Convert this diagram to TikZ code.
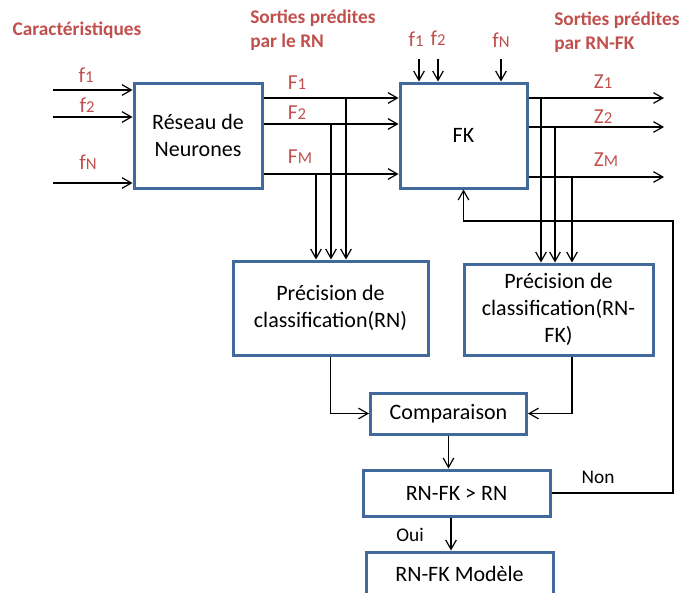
\documentclass[tikz,border=0pt]{standalone}
\usepackage{fontspec}
\setmainfont{Carlito}
\usetikzlibrary{arrows.meta}
\definecolor{boxblue}{RGB}{65,105,155}
\definecolor{lblred}{RGB}{192,80,77}
\newcommand\sbx[1]{{\fontsize{12.5}{14}\selectfont #1}}
\begin{document}
\begin{tikzpicture}[x=0.75pt,y=-0.75pt,
  box/.style={draw=boxblue,line width=2.25pt,fill=white,align=center,inner sep=0pt,
    font=\fontsize{16.5}{20}\selectfont},
  arr/.style={-{Straight Barb[length=7pt,width=8pt]},line width=0.9pt},
  lbl/.style={text=lblred,font=\fontsize{16}{18}\selectfont,inner sep=0pt},
  hd/.style={text=lblred,font=\bfseries\fontsize{14.5}{18}\selectfont,align=left,inner sep=0pt},
  txt/.style={font=\fontsize{14.5}{17}\selectfont,inner sep=0pt}]
\useasboundingbox (0,0) rectangle (681,592);
% boxes
\node[box,minimum width=96pt,minimum height=78.75pt] (rn) at (198,135.5) {Réseau de\\Neurones};
\node[box,minimum width=95.25pt,minimum height=78.75pt] (fk) at (463.5,135.5) {FK};
\node[box,minimum width=146.25pt,minimum height=70.5pt] (prn) at (330.5,308) {Précision de\\classification(RN)};
\node[box,minimum width=141.75pt,minimum height=68.25pt] (pfk) at (558.5,309.5) {Précision de\\classification(RN-\\FK)};
\node[box,minimum width=117pt,minimum height=30.75pt] (cmp) at (448.5,413.5) {Comparaison};
\node[box,minimum width=140.25pt,minimum height=34.5pt] (dec) at (456.5,493) {RN-FK > RN};
\node[box,minimum width=140.25pt,minimum height=33pt] (mod) at (459.5,574) {RN-FK Modèle};
% headings
\node[hd] (h1) at (77,30) {Caractéristiques};
\node[hd,anchor=west] (h2) at (250,30) {Sorties prédites\\par le RN};
\node[hd,anchor=west] (h3) at (554,32) {Sorties prédites\\par RN-FK};
% coordinates
\coordinate (i1) at (53,90);
\coordinate (i2) at (53,117);
\coordinate (i3) at (53,183);
\coordinate (y1) at (0,98);
\coordinate (y2) at (0,124);
\coordinate (y3) at (0,174);
\coordinate (zy1) at (0,98);
\coordinate (zy2) at (0,127);
\coordinate (zy3) at (0,177);
\coordinate (zend) at (664,0);
\coordinate (b1) at (346,98);
\coordinate (b2) at (331,124);
\coordinate (b3) at (316,174);
\coordinate (c1) at (541,98);
\coordinate (c2) at (555,127);
\coordinate (c3) at (572,177);
\coordinate (t1) at (419,59);
\coordinate (t2) at (438,59);
\coordinate (t3) at (501,59);
\coordinate (fb) at (673,221);
\coordinate (px) at (572,0);
\coordinate (ox) at (451,0);
% inputs to RN
\draw[arr] (i1) -- (i1 -| rn.west);
\draw[arr] (i2) -- (i2 -| rn.west);
\draw[arr] (i3) -- (i3 -| rn.west);
\node[lbl] (lf1) at (86,75) {f\sbx{1}};
\node[lbl] (lf2) at (87,105) {f\sbx{2}};
\node[lbl] (lfn) at (88,162) {f\sbx{N}};
% RN outputs to FK
\draw[arr] (rn.east |- y1) -- (fk.west |- y1);
\draw[arr] (rn.east |- y2) -- (fk.west |- y2);
\draw[arr] (rn.east |- y3) -- (fk.west |- y3);
\node[lbl] (lF1) at (297,83) {F\sbx{1}};
\node[lbl] (lF2) at (297,113) {F\sbx{2}};
\node[lbl] (lFM) at (300,157) {F\sbx{M}};
% branches to precision RN
\draw[arr] (b1) -- (b1 |- prn.north);
\draw[arr] (b2) -- (b2 |- prn.north);
\draw[arr] (b3) -- (b3 |- prn.north);
% top inputs FK
\draw[arr] (t1) -- (t1 |- fk.north);
\draw[arr] (t2) -- (t2 |- fk.north);
\draw[arr] (t3) -- (t3 |- fk.north);
\node[lbl] (tf1) at (416,39) {f\sbx{1}};
\node[lbl] (tf2) at (438,38) {f\sbx{2}};
\node[lbl] (tfn) at (501,40) {f\sbx{N}};
% FK outputs
\draw[arr] (fk.east |- zy1) -- (zend |- zy1);
\draw[arr] (fk.east |- zy2) -- (zend |- zy2);
\draw[arr] (fk.east |- zy3) -- (zend |- zy3);
\node[lbl] (lZ1) at (603,82) {Z\sbx{1}};
\node[lbl] (lZ2) at (603,117) {Z\sbx{2}};
\node[lbl] (lZM) at (606,160) {Z\sbx{M}};
% branches to precision RN-FK
\draw[arr] (c1) -- (c1 |- pfk.north);
\draw[arr] (c2) -- (c2 |- pfk.north);
\draw[arr] (c3) -- (c3 |- pfk.north);
% to comparison
\draw[arr] (prn.south) |- (cmp.west);
\draw[arr] (pfk.south -| px) |- (cmp.east);
\draw[arr] (cmp.south) -- (cmp.south |- dec.north);
\draw[arr] (dec.south -| ox) -- (mod.north -| ox);
\node[txt] (oui) at (410,535) {Oui};
% feedback
\draw[arr] (dec.east) -| (fb) -| (fk.south);
\node[txt] (non) at (598,477) {Non};
\end{tikzpicture}
\end{document}
